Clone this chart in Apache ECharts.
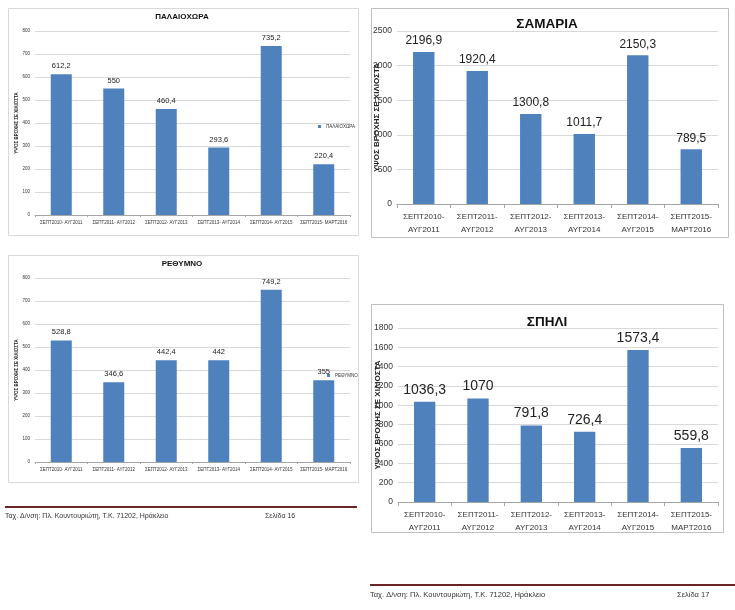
<!DOCTYPE html>
<html>
<head>
<meta charset="utf-8">
<script src="https://cdn.jsdelivr.net/npm/echarts@6/dist/echarts.min.js"></script>
<style>html,body{margin:0;padding:0;background:#fff}#c{width:735px;height:610px}</style>
</head>
<body>
<div id="c"></div>
<script>
const periodStart = ["ΣΕΠΤ2010", "ΣΕΠΤ2011", "ΣΕΠΤ2012", "ΣΕΠΤ2013", "ΣΕΠΤ2014", "ΣΕΠΤ2015"];
const periodEnd = ["ΑΥΓ2011", "ΑΥΓ2012", "ΑΥΓ2013", "ΑΥΓ2014", "ΑΥΓ2015", "ΜΑΡΤ2016"];
const palaiochora = [612.2, 550, 460.4, 293.6, 735.2, 220.4];
const samaria = [2196.9, 1920.4, 1300.8, 1011.7, 2150.3, 789.5];
const rethymno = [528.8, 346.6, 442.4, 442, 749.2, 355];
const spili = [1036.3, 1070, 791.8, 726.4, 1573.4, 559.8];
const chartTitles = ["ΠΑΛΑΙΟΧΩΡΑ", "ΣΑΜΑΡΙΑ", "ΡΕΘΥΜΝΟ", "ΣΠΗΛΙ"];
const yMax = [800, 2500, 800, 1800];
const yStep = [100, 500, 100, 200];
const yName = "ΥΨΟΣ ΒΡΟΧΗΣ ΣΕ ΧΙΛΙΟΣΤΑ";
const footerAddress = "Ταχ. Δ/νση: Πλ. Κουντουριώτη, Τ.Κ. 71202, Ηράκλειο";
const pageLabels = ["Σελίδα 16", "Σελίδα 17"];

const catsOneLine = periodStart.map((s, i) => s + "- " + periodEnd[i]);
const catsTwoLine = periodStart.map((s, i) => s + "-\n" + periodEnd[i]);
const FONT = "Liberation Sans";
const BLUE = "#4f81bd";
const fmt = p => String(p.value).replace(".", ",");

const grids = [
  {left: 35, top: 31, width: 315, height: 184},
  {left: 397, top: 31, width: 321, height: 173},
  {left: 35, top: 278, width: 315, height: 184},
  {left: 398, top: 328, width: 320, height: 174}
];
const small = [true, false, true, false];
const labelSize = [7.5, 12, 7.5, 14];
const seriesData = [palaiochora, samaria, rethymno, spili];

const xAxes = grids.map((g, i) => ({
  type: "category", gridIndex: i,
  data: small[i] ? catsOneLine : catsTwoLine,
  axisLine: {lineStyle: {color: "#a6a6a6", width: 1}},
  axisTick: {show: true, length: small[i] ? 2 : 4, lineStyle: {color: "#a6a6a6"}},
  axisLabel: {
    interval: 0, fontFamily: FONT, color: "#333",
    fontSize: small[i] ? 4.5 : 8, lineHeight: small[i] ? 6 : 13,
    margin: small[i] ? 5 : 6
  }
}));
const yAxes = grids.map((g, i) => ({
  type: "value", gridIndex: i, min: 0, max: yMax[i], interval: yStep[i],
  name: yName, nameLocation: "middle", nameRotate: 90,
  nameGap: small[i] ? 16 : 16, nameMoveOverlap: false,
  nameTextStyle: {fontFamily: FONT, fontWeight: "bold", fontSize: small[i] ? 4.5 : 8, color: "#222"},
  axisLine: {show: false},
  axisTick: {show: false},
  splitLine: {lineStyle: {color: "#d9d9d9", width: 1}},
  axisLabel: {fontFamily: FONT, color: "#333", fontSize: small[i] ? 4.5 : 8.5, margin: 5,
    formatter: v => String(v)}
}));
const seriesNames = ["ΠΑΛΑΙΟΧΩΡΑ", "ΣΑΜΑΡΙΑ", "ΡΕΘΥΜΝΟ", "ΣΠΗΛΙ"];
const series = seriesData.map((d, i) => ({
  name: seriesNames[i], type: "bar", xAxisIndex: i, yAxisIndex: i,
  data: d, barWidth: "40%",
  itemStyle: {color: BLUE},
  label: {show: true, position: "top", distance: small[i] ? 4 : 5, formatter: fmt,
    fontFamily: FONT, fontSize: labelSize[i], color: "#222"}
}));

const titlePos = [[182, 17, 8], [547, 24, 13.5], [182, 264, 8], [547, 322, 13.5]];
const graphics = [];
const frames = [[8, 8, 350, 227, "#d9d9d9"], [371, 8, 357, 229, "#bfbfbf"], [8, 255, 350, 227, "#d9d9d9"], [371, 304, 352, 228, "#bfbfbf"]];
frames.forEach(f => graphics.push({type: "rect", shape: {x: f[0] + 0.5, y: f[1] + 0.5, width: f[2], height: f[3]},
  style: {fill: "none", stroke: f[4], lineWidth: 1}, z: -1}));
titlePos.forEach((t, i) => graphics.push({type: "text", x: t[0], y: t[1],
  style: {text: chartTitles[i], font: "bold " + t[2] + "px '" + FONT + "'", fill: "#111", textAlign: "center", textVerticalAlign: "middle"}}));
// footers
graphics.push({type: "line", shape: {x1: 5, y1: 507, x2: 357, y2: 507}, style: {stroke: "#6a2424", lineWidth: 2}});
graphics.push({type: "line", shape: {x1: 370, y1: 585, x2: 735, y2: 585}, style: {stroke: "#6a2424", lineWidth: 2}});
graphics.push({type: "text", x: 5, y: 516, style: {text: footerAddress, font: "7px '" + FONT + "'", fill: "#333", textVerticalAlign: "middle"}});
graphics.push({type: "text", x: 265, y: 516, style: {text: pageLabels[0], font: "7px '" + FONT + "'", fill: "#333", textVerticalAlign: "middle"}});
graphics.push({type: "text", x: 370, y: 595, style: {text: footerAddress, font: "7.5px '" + FONT + "'", fill: "#333", textVerticalAlign: "middle"}});
graphics.push({type: "text", x: 677, y: 595, style: {text: pageLabels[1], font: "7.5px '" + FONT + "'", fill: "#333", textVerticalAlign: "middle"}});

const chart = echarts.init(document.getElementById("c"));
chart.setOption({
  animation: false,
  backgroundColor: "#fff",
  grid: grids,
  xAxis: xAxes,
  yAxis: yAxes,
  legend: [
    {data: ["ΠΑΛΑΙΟΧΩΡΑ"], left: 318, top: 124, orient: "vertical", itemWidth: 3, itemHeight: 3, itemGap: 2,
     icon: "rect", textStyle: {fontFamily: FONT, fontSize: 4.5, color: "#333"}, padding: 0, selectedMode: false},
    {data: ["ΡΕΘΥΜΝΟ"], left: 327, top: 373, orient: "vertical", itemWidth: 3, itemHeight: 3, itemGap: 2,
     icon: "rect", textStyle: {fontFamily: FONT, fontSize: 4.5, color: "#333"}, padding: 0, selectedMode: false}
  ],
  series: series,
  graphic: graphics
});
</script>
</body>
</html>
